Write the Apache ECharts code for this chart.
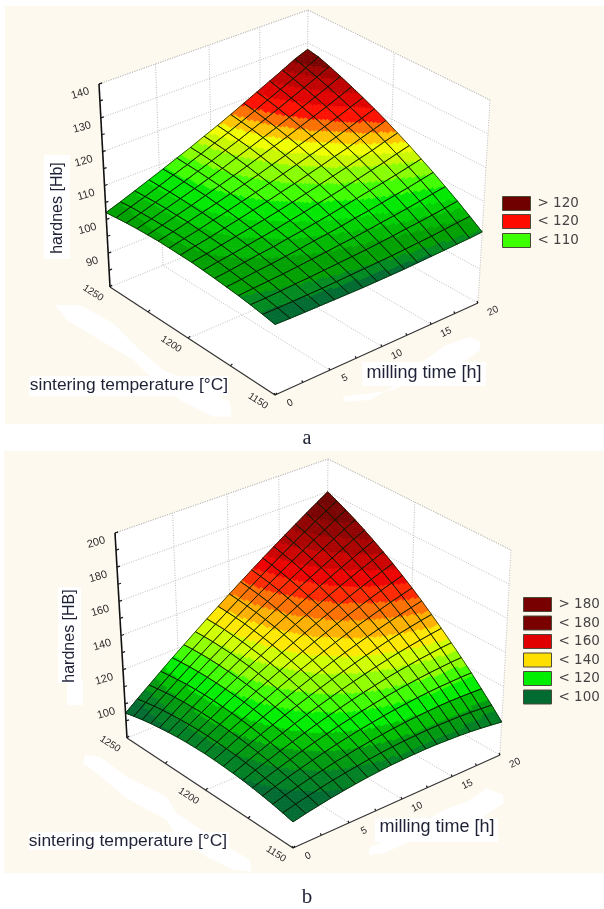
<!DOCTYPE html>
<html><head><meta charset="utf-8">
<style>html,body{margin:0;padding:0;background:#fff}#c{width:604px;height:909px}canvas{filter:blur(.4px)}</style>
<script src="https://cdn.jsdelivr.net/npm/echarts@6/dist/echarts.min.js"></script>
</head><body><div id="c"></div>
<script>
const millingTicks=[0,5,10,15,20];
const millingMinor=[2.5,7.5,12.5,17.5];
const tempTicks=[1150,1200,1250];
const tempMinor=[1175,1225];
const hardnessTicksA=[90,100,110,120,130,140];
const hardnessMinorA=[85,95,105,115,125,135];
const hardnessTicksB=[100,120,140,160,180,200];
const hardnessMinorB=[90,110,130,150,170,190];
const legendLabelsA=['> 120','< 120','< 110'];
const legendColorsA=['#700000','#ff0a00','#3cff00'];
const legendLabelsB=['> 180','< 180','< 160','< 140','< 120','< 100'];
const legendColorsB=['#780000','#7a0000','#e00000','#ffdf00','#00ee00','#006b30'];
const bandLimitsA=[100.3,101.3,103.5,105,106.5,108.5,110.5,112.5,114,115.5,117,118.5,120.5,122.5,124.5,126];
const bandColorsA=['#006b30','#008a20','#00a000','#00b800','#00d000','#00e800','#40ff00','#88ff00','#c8f800','#f0ff00','#ffc400','#ff7000','#ff1000','#e00000','#c00000','#a00000','#7a0000'];
const bandLimitsB=[100,104,108,112,116.5,121,126,130.5,135.5,140.5,145.5,150.5,155.5,160.5,165.5,170.5,176];
const bandColorsB=['#006b30','#008024','#009a10','#00c000','#00ee00','#40ff00','#90ff00','#d0ff00','#ffe800','#ffb000','#ff7000','#ff2800','#ee0000','#cc0000','#aa0000','#900000','#7a0000','#700000'];
// rows: sintering temperature 1150..1250, columns: milling time 0..20
const hardnessA=[
[99.5,99.4,99.4,99.4,99.4,99.4,99.4,99.5,99.6,99.7,99.9,100.1,100.3,100.5,100.7,101],
[100.2,100.2,100.3,100.4,100.5,100.7,100.9,101.1,101.3,101.5,101.8,102.1,102.4,102.8,103.2,103.6],
[100.8,100.9,101.1,101.4,101.6,101.9,102.2,102.5,102.8,103.2,103.6,104.1,104.5,105,105.5,106.1],
[101.3,101.6,101.9,102.2,102.6,103,103.4,103.9,104.3,104.8,105.4,105.9,106.5,107.1,107.8,108.4],
[101.7,102.1,102.6,103,103.5,104,104.6,105.1,105.7,106.4,107,107.7,108.4,109.1,109.9,110.7],
[102.1,102.6,103.2,103.8,104.3,105,105.6,106.3,107,107.8,108.6,109.4,110.2,111,111.9,112.8],
[102.4,103.1,103.7,104.4,105.1,105.8,106.6,107.4,108.3,109.1,110,110.9,111.9,112.8,113.9,114.9],
[102.7,103.4,104.2,105,105.8,106.6,107.5,108.4,109.4,110.4,111.4,112.4,113.5,114.5,115.7,116.8],
[102.8,103.7,104.5,105.5,106.4,107.4,108.3,109.4,110.4,111.5,112.6,113.8,114.9,116.2,117.4,118.7],
[102.9,103.9,104.8,105.9,106.9,108,109.1,110.2,111.4,112.6,113.8,115,116.3,117.6,119,120.4],
[103,104,105.1,106.2,107.3,108.5,109.7,110.9,112.2,113.5,114.9,116.2,117.6,119,120.5,122],
[102.9,104,105.2,106.4,107.7,109,110.3,111.6,113,114.4,115.8,117.3,118.8,120.3,121.9,123.5],
[102.8,104,105.3,106.6,107.9,109.3,110.7,112.2,113.7,115.2,116.7,118.3,119.9,121.5,123.2,124.9],
[102.6,103.9,105.3,106.7,108.1,109.6,111.1,112.7,114.2,115.9,117.5,119.2,120.9,122.6,124.4,126.2],
[102.3,103.8,105.2,106.7,108.3,109.8,111.4,113.1,114.7,116.4,118.2,120,121.8,123.6,125.5,127.4],
[102,103.5,105.1,106.7,108.3,110,111.6,113.4,115.1,116.9,118.8,120.7,122.6,124.5,126.5,128]
];
const hardnessB=[
[94.5,96,97.3,98.5,99.5,100.4,101.2,101.8,102.3,102.6,102.8,102.9,102.8,102.5,102.2,101.7,101,100.2,99.3],
[95.8,97.6,99.1,100.6,101.9,103,104,104.9,105.7,106.3,106.8,107.1,107.3,107.4,107.3,107.1,106.8,106.3,105.7],
[97,99,100.8,102.5,104,105.5,106.7,107.9,108.9,109.8,110.6,111.2,111.7,112,112.3,112.4,112.3,112.1,111.8],
[98,100.2,102.3,104.2,106,107.7,109.3,110.7,112,113.1,114.2,115.1,115.8,116.5,117,117.4,117.6,117.8,117.8],
[98.9,101.3,103.6,105.8,107.9,109.8,111.6,113.3,114.8,116.3,117.6,118.8,119.8,120.7,121.5,122.2,122.7,123.2,123.5],
[99.6,102.3,104.8,107.2,109.5,111.7,113.8,115.7,117.5,119.2,120.8,122.2,123.6,124.8,125.8,126.8,127.6,128.4,128.9],
[100.1,103,105.8,108.5,111,113.5,115.8,117.9,120,122,123.8,125.5,127.1,128.6,130,131.2,132.3,133.3,134.2],
[100.5,103.7,106.7,109.6,112.3,115,117.6,120,122.3,124.5,126.6,128.6,130.5,132.2,133.9,135.4,136.8,138.1,139.2],
[100.8,104.1,107.4,110.5,113.5,116.4,119.2,121.9,124.5,126.9,129.3,131.5,133.6,135.6,137.5,139.3,141,142.6,144.1],
[100.9,104.4,107.9,111.2,114.5,117.6,120.7,123.6,126.4,129.1,131.7,134.2,136.6,138.9,141,143.1,145.1,146.9,148.7],
[100.8,104.6,108.3,111.8,115.3,118.7,121.9,125.1,128.2,131.1,134,136.7,139.4,141.9,144.3,146.7,148.9,151,153],
[100.6,104.6,108.4,112.2,115.9,119.5,123,126.4,129.7,132.9,136,139,141.9,144.7,147.4,150,152.5,154.9,157.2],
[100.2,104.4,108.5,112.5,116.4,120.2,124,127.6,131.1,134.5,137.9,141.1,144.3,147.3,150.3,153.1,155.9,158.5,161.1],
[99.6,104,108.3,112.6,116.7,120.7,124.7,128.5,132.3,136,139.5,143,146.4,149.7,152.9,156,159,162,164.8],
[98.9,103.5,108.1,112.5,116.8,121.1,125.3,129.3,133.3,137.2,141,144.7,148.4,151.9,155.4,158.7,162,165.2,168.3],
[98.1,102.9,107.6,112.3,116.8,121.3,125.6,129.9,134.2,138.3,142.3,146.3,150.1,153.9,157.6,161.2,164.8,168.2,171.6],
[97.1,102.1,107,111.8,116.6,121.3,125.9,130.4,134.8,139.1,143.4,147.6,151.7,155.7,159.6,163.5,167.3,171,174.6],
[95.9,101.1,106.2,111.2,116.2,121.1,125.9,130.6,135.2,139.8,144.3,148.7,153,157.3,161.5,165.6,169.6,173.5,177.4],
[94.6,100,105.3,110.5,115.7,120.7,125.7,130.7,135.5,140.3,145,149.6,154.2,158.7,163.1,167.4,171.7,175.9,180]
];

const chartA={rows:hardnessA,zMin:80,zMax:140,ticks:hardnessTicksA,minor:hardnessMinorA,limits:bandLimitsA,colors:bandColorsA,
 box:{f0:[275,395],r0:[478,303],l0:[110,287],b0:[306,207],f1:[275,178],r1:[490,100],l1:[99,84],b1:[308,10]}};
const chartB={rows:hardnessB,zMin:80,zMax:200,ticks:hardnessTicksB,minor:hardnessMinorB,limits:bandLimitsB,colors:bandColorsB,
 box:{f0:[293,848],r0:[500,755],l0:[127,738],b0:[326,656],f1:[293,632],r1:[511,550],l1:[115,533],b1:[328,459]}};

const PERSP=.9;
const warp=t=>t/(t+PERSP*(1-t));
// box projection: u = milling 0..1, v = temperature 0..1, w = hardness 0..1
function proj(ch,u0,v0,w){
 const b=ch.box,o=[],u=warp(u0),v=warp(v0);
 for(let k=0;k<2;k++){
  const p0=(1-u)*(1-v)*b.f0[k]+u*(1-v)*b.r0[k]+(1-u)*v*b.l0[k]+u*v*b.b0[k];
  const p1=(1-u)*(1-v)*b.f1[k]+u*(1-v)*b.r1[k]+(1-u)*v*b.l1[k]+u*v*b.b1[k];
  o.push(p0*(1-w)+p1*w);
 }
 return o;
}
const U=m=>m/20, V=t=>(t-1150)/100, W=(ch,z)=>(z-ch.zMin)/(ch.zMax-ch.zMin);
function band(ch,z){let i=0;while(i<ch.limits.length&&z>=ch.limits[i])i++;return ch.colors[i];}
const SUB=6;
const wallFill='#ffffff',dot={stroke:'#bdbdbd',lineWidth:1,lineDash:[1,1.5]};

function wallsItem(ch){return function(params,api){
 const c=p=>api.coord(p),P=(u,v,w)=>c(proj(ch,u,v,w)),kids=[];
 const poly=(pts)=>kids.push({type:'polygon',shape:{points:pts},style:{fill:wallFill}});
 poly([P(0,1,0),P(0,1,1),P(1,1,1),P(1,1,0)]);
 poly([P(1,1,0),P(1,1,1),P(1,0,1),P(1,0,0)]);
 poly([P(0,0,0),P(1,0,0),P(1,1,0),P(0,1,0)]);
 const ln=(a,b)=>kids.push({type:'line',shape:{x1:a[0],y1:a[1],x2:b[0],y2:b[1]},style:dot});
 ch.ticks.forEach(z=>{const w=W(ch,z);ln(P(0,1,w),P(1,1,w));ln(P(1,1,w),P(1,0,w));});
 ln(P(0,1,1),P(1,1,1));ln(P(1,1,1),P(1,0,1));ln(P(1,0,1),P(1,0,0));
 millingTicks.slice(1).forEach(m=>{ln(P(U(m),1,0),P(U(m),1,1));if(m<20)ln(P(U(m),0,0),P(U(m),1,0));});
 ln(P(1,.5,0),P(1,.5,1));ln(P(0,.5,0),P(1,.5,0));
 ln(P(0,1,0),P(1,1,0));ln(P(1,1,0),P(1,0,0));
 return {type:'group',children:kids};
};}
function surfaceItem(ch){
 const ny=ch.rows.length-1,nx=ch.rows[0].length-1;
 return function(params,api){
  const i=api.value(0),j=api.value(1),r=ch.rows,kids=[];
  const z00=r[j][i],z10=r[j][i+1],z01=r[j+1][i],z11=r[j+1][i+1];
  const Z=(s,t)=>z00*(1-s)*(1-t)+z10*s*(1-t)+z01*(1-s)*t+z11*s*t;
  const pt=(s,t)=>api.coord(proj(ch,(i+s)/nx,(j+t)/ny,W(ch,Z(s,t))));
  for(let a=0;a<SUB;a++)for(let b=0;b<SUB;b++){
   const s0=a/SUB,s1=(a+1)/SUB,t0=b/SUB,t1=(b+1)/SUB;
   const col=band(ch,Z((s0+s1)/2,(t0+t1)/2));
   kids.push({type:'polygon',shape:{points:[pt(s0,t0),pt(s1,t0),pt(s1,t1),pt(s0,t1)]},style:{fill:col,stroke:col,lineWidth:.7}});
  }
  return {type:'group',children:kids};
 };
}
function meshItem(ch){
 const ny=ch.rows.length-1,nx=ch.rows[0].length-1;
 return function(params,api){
  const i=api.value(0),j=api.value(1),r=ch.rows;
  const pt=(a,b)=>api.coord(proj(ch,a/nx,b/ny,W(ch,r[b][a])));
  return {type:'polygon',shape:{points:[pt(i,j),pt(i+1,j),pt(i+1,j+1),pt(i,j+1)]},style:{fill:'none',stroke:'rgba(10,25,0,.72)',lineWidth:1}};
 };
}
function axisItem(ch){return function(params,api){
 const P=(u,v,w)=>api.coord(proj(ch,u,v,w)),kids=[];
 const ax={stroke:'#1a1a1a',lineWidth:1.2};
 const ln=(a,b,s)=>kids.push({type:'line',shape:{x1:a[0],y1:a[1],x2:b[0],y2:b[1]},style:s||ax});
 ln(P(0,1,0),P(0,1,1),{stroke:'#111',lineWidth:1.6});
 ln(P(0,1,0),P(0,0,0),{stroke:'#333',lineWidth:1.2});
 ln(P(0,0,0),P(1,0,0),{stroke:'#333',lineWidth:1.2});
 const tick=(p,dx,dy)=>ln(p,[p[0]+dx,p[1]+dy]);
 ch.ticks.concat(ch.minor).forEach(z=>{const p=P(0,1,W(ch,z));tick(p,3,-1);});
 tick(P(0,1,1),3,-1);
 tempTicks.concat(tempMinor).forEach(t=>{tick(P(0,V(t),0),2,-2);});
 millingTicks.concat(millingMinor).forEach(m=>{tick(P(U(m),0,0),-1,-2);});
 const txt=(s,p,dx,dy,rot,align,size)=>kids.push({type:'text',x:p[0]+dx,y:p[1]+dy,rotation:rot,style:{text:String(s),fill:'#2a2a2a',font:size+'px "Liberation Sans"',align:align,verticalAlign:'middle'}});
 ch.ticks.forEach(z=>txt(z,P(0,1,W(ch,z)),-10,7,.28,'right',11));
 tempTicks.forEach(t=>txt(t,P(0,V(t),0),-17,6,-.58,'center',10));
 millingTicks.forEach(m=>txt(m,P(U(m),0,0),15,8,.45,'center',10));
 return {type:'group',children:kids};
};}

function cells(ch){const d=[];for(let j=ch.rows.length-2;j>=0;j--)for(let i=0;i<ch.rows[0].length-1;i++)d.push([i,j]);return d;}
function seriesFor(ch){
 const base={type:'custom',silent:true,animation:false,clip:false,progressive:0,coordinateSystem:'cartesian2d'};
 return [
  Object.assign({},base,{z:2,data:[[0,0]],renderItem:wallsItem(ch)}),
  Object.assign({},base,{z:3,data:cells(ch),renderItem:surfaceItem(ch)}),
  Object.assign({},base,{z:4,data:cells(ch),renderItem:meshItem(ch)}),
  Object.assign({},base,{z:5,data:[[0,0]],renderItem:axisItem(ch)})
 ];
}
function blob(pts,ox,oy){return {type:'polygon',z:1,shape:{points:pts.map(p=>[ox+p[0]/3,oy+p[1]/3])},style:{fill:'#fff'}};}
function rect(x,y,w,h,fill,z){return {type:'rect',z:z||1,shape:{x,y,width:w,height:h},style:{fill}};}
function label(text,x,y,size,rot,fam){return {type:'text',z:20,x,y,rotation:rot||0,style:{text,fill:'#1f2236',font:size+'px "'+(fam||'Liberation Sans')+'"',align:'center',verticalAlign:'middle'}};}
function legend(labels,colors,x,ys,h){const out=[];labels.forEach((t,i)=>{
 out.push({type:'rect',z:20,shape:{x:x,y:ys[i],width:28,height:h},style:{fill:colors[i],stroke:'#4a4a3a',lineWidth:1}});
 out.push({type:'text',z:20,x:x+35,y:ys[i]+h/2,style:{text:t,fill:'#444',font:'13.5px "DejaVu Sans"',align:'left',verticalAlign:'middle'}});
});return out;}
const cream='#fef9ef';
const graphics=[
 rect(5,6,599,418,cream,0),rect(4,451,600,422,cream,0),
 blob([[165,255],[240,255],[340,310],[420,390],[490,450],[600,500],[690,545],[695,590],[640,590],[540,540],[440,460],[400,420],[300,360],[200,300]],0,220),
 blob([[250,545],[330,540],[400,500],[480,430],[560,375],[630,350],[660,365],[660,390],[620,420],[480,470],[400,510],[250,530]],260,220),
 blob([[255,255],[300,260],[380,320],[500,380],[530,430],[620,490],[700,540],[750,570],[755,605],[700,600],[620,560],[530,500],[500,450],[380,385],[290,310],[250,280]],0,670),
 blob([[295,555],[300,530],[410,490],[520,420],[590,395],[650,355],[700,375],[700,400],[640,440],[690,510],[420,515],[340,550]],270,670),
 rect(44,155,26,104,'#fff'),rect(58,587,23,96,'#fff'),rect(67,680,16,25,'#fff'),
 rect(29,376,199,20,'#fff'),rect(29,832,200,18,'#fff'),rect(362,362,124,24,'#fff'),rect(375,818,123,24,'#fff'),
 label('hardnes [Hb]',58,208,16,Math.PI/2),
 label('hardnes [HB]',70,636,16,Math.PI/2),
 label('sintering temperature [°C]',129,385,17.4),
 label('sintering temperature [°C]',128,841,17.4),
 label('milling time [h]',424,373,18),
 label('milling time [h]',437,827,18),
 label('a',307,439,20,0,'Liberation Serif'),
 label('b',307,897,21,0,'Liberation Serif'),
 ...legend(legendLabelsA,legendColorsA,502.5,[196.5,214.5,233.5],14),
 ...legend(legendLabelsB,legendColorsB,523.5,[597.5,616,634.5,653,671.5,690],14)
];
const chart=echarts.init(document.getElementById('c'),null,{renderer:'canvas',width:604,height:909});
chart.setOption({
 animation:false,backgroundColor:'#fff',
 grid:{left:0,right:0,top:0,bottom:0},
 xAxis:{type:'value',min:0,max:604,show:false},
 yAxis:{type:'value',min:0,max:909,inverse:true,show:false},
 graphic:{elements:graphics},
 series:[...seriesFor(chartA),...seriesFor(chartB)]
});
</script></body></html>
